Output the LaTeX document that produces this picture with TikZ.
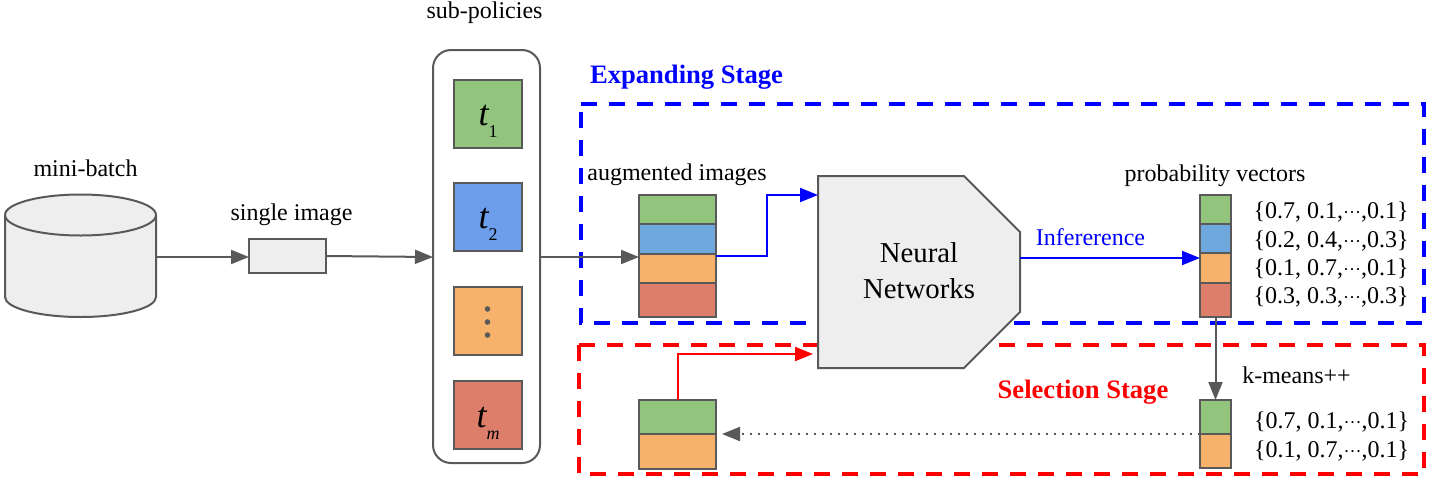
\documentclass[tikz,border=0pt]{standalone}
\usepackage{fontspec}
\setmainfont{Liberation Serif}
\usetikzlibrary{arrows.meta, positioning, shapes.geometric}

\definecolor{linegray}{HTML}{595959}
\definecolor{boxgray}{HTML}{EEEEEE}
\definecolor{tgreen}{HTML}{93C47D}
\definecolor{tblue}{HTML}{6D9EEB}
\definecolor{sblue}{HTML}{6FA8DC}
\definecolor{torange}{HTML}{F6B26B}
\definecolor{tred}{HTML}{DD7E6B}

\tikzset{
  txt/.style={font=\fontsize{24}{24}\selectfont, inner sep=0pt, anchor=base},
  stagetxt/.style={font=\fontsize{26.6}{27}\selectfont\bfseries, inner sep=0pt, anchor=base},
  cell/.style={draw=linegray, line width=2pt, inner sep=0pt, outer sep=0pt},
  augcell/.style={cell, minimum width=77pt},
  probcell/.style={cell, minimum width=31pt},
  tbox/.style={cell, minimum width=68pt, minimum height=68pt},
  grayarrow/.style={draw=linegray, line width=2pt, -{Triangle[length=18pt,width=14pt]}},
  bluearrow/.style={draw=blue, line width=2pt, -{Triangle[length=18pt,width=14pt]}},
  redarrow/.style={draw=red, line width=2pt, -{Triangle[length=18pt,width=14pt]}},
  stagebox/.style={line width=4pt, dash pattern=on 16pt off 12pt},
}
\newcommand{\tname}[2]{\raisebox{#1}[0pt][0pt]{{\fontsize{36}{36}\selectfont\itshape t}\raisebox{-12pt}{\fontsize{18}{18}\selectfont #2}}}
\newcommand{\ptdots}{{\fontsize{18}{18}\selectfont···}}

\begin{document}
\begin{tikzpicture}[x=1pt,y=-1pt]
  \useasboundingbox (0,0) rectangle (1430,480);

  % Stage frames
  \draw[stagebox,blue] (581,104) -- (1424,104) -- (1424,323) -- (581,323) -- cycle;
  \draw[stagebox,red] (579,345) -- (1424,345) -- (1424,474) -- (579,474) -- cycle;
  \node[stagetxt,blue] (expandlabel) at (686.5,83) {Expanding Stage};
  \node[stagetxt,red] (selectlabel) at (1083,398) {Selection Stage};

  % Mini-batch and single image
  \draw[draw=linegray,fill=boxgray,line width=2pt] (5,215)
    arc[start angle=180,end angle=0,x radius=75.5pt,y radius=20.5pt] -- (156,297)
    arc[start angle=0,end angle=-180,x radius=75.5pt,y radius=20pt] -- cycle;
  \draw[draw=linegray,line width=2pt] (5,215)
    arc[start angle=180,end angle=360,x radius=75.5pt,y radius=20.5pt];
  \node[minimum width=151pt, minimum height=123pt, inner sep=0pt, outer sep=0pt] (bag) at (80.5,255.5) {};
  \node[txt] (baglabel) at (85.5,176) {mini-batch};
  \node[cell,fill=boxgray,minimum width=77pt,minimum height=34pt] (single) at (287.5,256) {};
  \node[txt] (singlelabel) at (291.5,220) {single image};

  % Sub-policies
  \node[draw=linegray, line width=2pt, rounded corners=18pt, minimum width=107pt, minimum height=413pt,
    inner sep=0pt, outer sep=0pt] (subpol) at (486.5,256.5) {};
  \node[txt] (subpollabel) at (484.5,18) {sub-policies};
  \node[tbox,fill=tgreen] (t1) at (488,114) {\tname{-11.5pt}{1}};
  \node[tbox,fill=tblue] (t2) at (488,217) {\tname{-11.5pt}{2}};
  \node[tbox,fill=torange] (t3) at (488,320.5) {};
  \node[tbox,fill=tred] (t4) at (488,414.5) {\tname{-12.5pt}{\itshape m}};
  \foreach \i in {-13,0,13}
    \fill[linegray] (487.5,322+\i) circle (2.8);

  % Augmented images
  \node[txt] (auglabel) at (677,180) {augmented images};
  \node[augcell,fill=tgreen,minimum height=29pt] (aug1) at (677.5,209.5) {};
  \node[augcell,fill=sblue,minimum height=30pt] (aug2) at (677.5,239) {};
  \node[augcell,fill=torange,minimum height=29pt] (aug3) at (677.5,268.5) {};
  \node[augcell,fill=tred,minimum height=34pt] (aug4) at (677.5,300) {};

  % Neural networks
  \draw[draw=linegray,fill=boxgray,line width=2pt] (818,176) -- (964,176) -- (1020,232) -- (1020,312)
    -- (964,368) -- (818,368) -- cycle;
  \node[font=\fontsize{28.8}{36}\selectfont, align=center, inner sep=0pt, minimum width=202pt, minimum height=192pt,
    outer sep=0pt, text depth=0pt] (nn) at (919,271) {Neural\\Networks};

  % Probability vectors
  \node[txt] (problabel) at (1215,181) {probability vectors};
  \node[probcell,fill=tgreen,minimum height=29pt] (prob1) at (1215.5,209.5) {};
  \node[probcell,fill=sblue,minimum height=29pt] (prob2) at (1215.5,238.5) {};
  \node[probcell,fill=torange,minimum height=30pt] (prob3) at (1215.5,268) {};
  \node[probcell,fill=tred,minimum height=34pt] (prob4) at (1215.5,300) {};
  \node[txt] (vec1) at (1331,218) {\{0.7, 0.1,\ptdots,0.1\}};
  \node[txt] (vec2) at (1331,247) {\{0.2, 0.4,\ptdots,0.3\}};
  \node[txt] (vec3) at (1331,275) {\{0.1, 0.7,\ptdots,0.1\}};
  \node[txt] (vec4) at (1331,303) {\{0.3, 0.3,\ptdots,0.3\}};

  % Selected vectors
  \node[txt] (kmeans) at (1296.5,383) {k-means++};
  \node[probcell,fill=tgreen,minimum height=34pt] (sel1) at (1215.5,417) {};
  \node[probcell,fill=torange,minimum height=34pt] (sel2) at (1215.5,451) {};
  \node[txt] (svec1) at (1331.5,428) {\{0.7, 0.1,\ptdots,0.1\}};
  \node[txt] (svec2) at (1331.5,457) {\{0.1, 0.7,\ptdots,0.1\}};
  \node[augcell,fill=tgreen,minimum height=34pt] (out1) at (677.5,416.5) {};
  \node[augcell,fill=torange,minimum height=35pt] (out2) at (677.5,451) {};

  % Arrows
  \coordinate (midline) at (0,257);
  \coordinate (nnblue) at (0,195);
  \coordinate (nnred) at (0,354);
  \coordinate (nngap) at (813,354);
  \coordinate (infer) at (0,258);
  \coordinate (augout) at (716,256);
  \coordinate (selgap) at (722,434);
  \draw[grayarrow] (bag.east |- midline) -- (single.west |- midline);
  \draw[grayarrow] (single.east) -- (subpol.west |- midline);
  \draw[grayarrow] (subpol.east |- midline) -- (aug1.west |- midline);
  \draw[bluearrow] (augout) -- (767,256) -- (767,195) -- (nn.west |- nnblue);
  \draw[bluearrow] (nn.east |- infer) -- (prob1.west |- infer);
  \node[txt,blue] (inferlabel) at (1090.5,245) {Infererence};
  \draw[grayarrow] (prob4.south) -- (sel1.north);
  \draw[draw=linegray, line width=2pt, dash pattern=on 2pt off 6pt, -{Triangle[length=18pt,width=14pt]}] (sel1.south west) -- (selgap);
  \draw[redarrow] (out1.north) -- (out1.north |- nnred) -- (nngap);
\end{tikzpicture}
\end{document}
